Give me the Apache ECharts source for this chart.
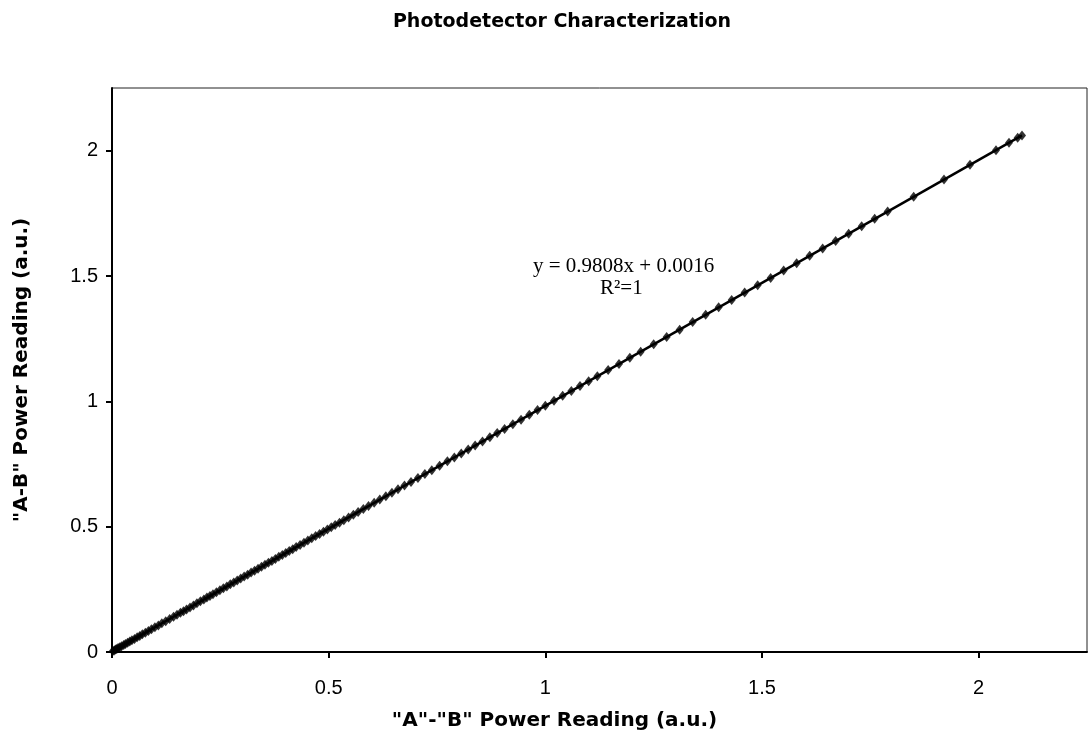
<!DOCTYPE html>
<html>
<head>
<meta charset="utf-8">
<script src="https://cdn.jsdelivr.net/npm/echarts@6/dist/echarts.min.js"></script>
<style>html,body{margin:0;padding:0;background:#fff;}#chart{width:1088px;height:742px;}</style>
</head>
<body>
<div id="chart"></div>
<script>
const titleText = 'Photodetector Characterization';
const xAxisName = '"A"-"B" Power Reading (a.u.)';
const yAxisName = '"A-B" Power Reading (a.u.)';
const eqText = 'y = 0.9808x + 0.0016';
const r2Text = 'R\u00B2=1';

const xVals = [0.002,0.005,0.008,0.011,0.014,0.018,0.022,0.027,0.031,0.036,0.041,0.046,0.052,0.058,0.064,0.07,0.077,0.084,0.091,0.099,0.107,0.115,0.124,0.133,0.142,0.15,0.158,0.165,0.172,0.18,0.188,0.196,0.204,0.212,0.219,0.226,0.233,0.241,0.249,0.257,0.265,0.273,0.281,0.289,0.297,0.305,0.313,0.321,0.329,0.337,0.345,0.353,0.361,0.369,0.377,0.385,0.393,0.401,0.409,0.417,0.425,0.434,0.443,0.452,0.461,0.47,0.479,0.488,0.497,0.506,0.515,0.525,0.535,0.546,0.557,0.568,0.58,0.592,0.605,0.618,0.632,0.646,0.66,0.675,0.69,0.706,0.722,0.738,0.756,0.774,0.79,0.806,0.822,0.838,0.855,0.872,0.889,0.906,0.925,0.944,0.963,0.982,1.0,1.02,1.04,1.06,1.08,1.1,1.12,1.145,1.17,1.195,1.22,1.25,1.28,1.31,1.34,1.37,1.4,1.43,1.46,1.49,1.52,1.55,1.58,1.61,1.64,1.67,1.7,1.73,1.76,1.79,1.85,1.92,1.98,2.04,2.07,2.09,2.1];
const yVals = [0.004,0.006,0.010,0.012,0.016,0.019,0.023,0.028,0.032,0.037,0.042,0.047,0.052,0.059,0.064,0.071,0.077,0.084,0.091,0.099,0.106,0.115,0.123,0.132,0.141,0.149,0.157,0.163,0.170,0.178,0.186,0.194,0.202,0.209,0.217,0.223,0.230,0.238,0.246,0.254,0.261,0.270,0.277,0.285,0.293,0.301,0.308,0.317,0.324,0.332,0.340,0.348,0.356,0.363,0.371,0.380,0.387,0.395,0.403,0.410,0.419,0.427,0.436,0.445,0.454,0.463,0.471,0.480,0.489,0.498,0.507,0.516,0.526,0.537,0.548,0.559,0.570,0.582,0.595,0.608,0.621,0.635,0.649,0.664,0.678,0.694,0.710,0.725,0.743,0.761,0.776,0.792,0.808,0.824,0.840,0.857,0.874,0.890,0.909,0.927,0.946,0.965,0.982,1.002,1.022,1.041,1.061,1.080,1.100,1.125,1.149,1.174,1.198,1.228,1.257,1.286,1.316,1.345,1.375,1.404,1.434,1.463,1.492,1.522,1.551,1.581,1.610,1.640,1.669,1.698,1.728,1.757,1.816,1.885,1.944,2.002,2.032,2.052,2.061];

const trendX = [0, 2.1];
const trendY = [0.0016, 2.0613];

const xTicks = [0, 0.5, 1, 1.5, 2];
const yTicks = [0, 0.5, 1, 1.5, 2];

const points = xVals.map((x, i) => [x, yVals[i]]);
const trend = trendX.map((x, i) => [x, trendY[i]]);

const boldFont = 'DejaVu Sans, Verdana, sans-serif';
const tickFont = 'Liberation Sans, Arial, sans-serif';

const chart = echarts.init(document.getElementById('chart'));
chart.setOption({
  backgroundColor: '#fff',
  animation: false,
  title: {
    text: titleText, left: 557, top: 8, textAlign: 'center',
    textStyle: { fontFamily: boldFont, fontWeight: 'bold', fontSize: 19, color: '#000' }
  },
  grid: { left: 112, right: 1, top: 88, bottom: 90, show: true, borderColor: '#222', borderWidth: 1, backgroundColor: 'transparent' },
  xAxis: {
    type: 'value', min: 0, max: 2.25, interval: 0.5,
    name: xAxisName, nameLocation: 'middle', nameGap: 59,
    nameTextStyle: { fontFamily: boldFont, fontWeight: 'bold', fontSize: 20, color: '#000', padding: [0, 90, 0, 0] },
    axisLine: { show: true, onZero: false, lineStyle: { color: '#000', width: 2 } },
    axisTick: { show: true, inside: false, length: 6, lineStyle: { color: '#000', width: 2 } },
    axisLabel: { margin: 26, fontFamily: tickFont, fontSize: 20, color: '#000',
      showMaxLabel: false,
      formatter: v => xTicks.indexOf(v) >= 0 ? String(v) : '' },
    splitLine: { show: false }
  },
  yAxis: {
    type: 'value', min: 0, max: 2.25, interval: 0.5,
    name: yAxisName, nameLocation: 'middle', nameGap: 80,
    nameTextStyle: { fontFamily: boldFont, fontWeight: 'bold', fontSize: 20, color: '#000' },
    axisLine: { show: true, onZero: false, lineStyle: { color: '#000', width: 2 } },
    axisTick: { show: true, inside: false, length: 6, lineStyle: { color: '#000', width: 2 } },
    axisLabel: { margin: 14, fontFamily: tickFont, fontSize: 20, color: '#000',
      showMaxLabel: false,
      formatter: v => yTicks.indexOf(v) >= 0 ? String(v) : '' },
    splitLine: { show: false }
  },
  series: [
    {
      type: 'line', data: trend, showSymbol: false, symbol: 'none',
      lineStyle: { color: '#000', width: 2.5 }, z: 2, silent: true
    },
    {
      type: 'scatter', data: points, symbol: 'diamond', symbolSize: [8, 10],
      itemStyle: { color: '#000' }, z: 3
    }
  ],
  graphic: [
    { type: 'text', left: 533, top: 256, style: { text: eqText, fontFamily: 'Liberation Serif, Times New Roman, serif', fontSize: 21, fill: '#000' } },
    { type: 'text', left: 600, top: 278, style: { text: r2Text, fontFamily: 'Liberation Serif, Times New Roman, serif', fontSize: 21, fill: '#000' } }
  ]
});
</script>
</body>
</html>
